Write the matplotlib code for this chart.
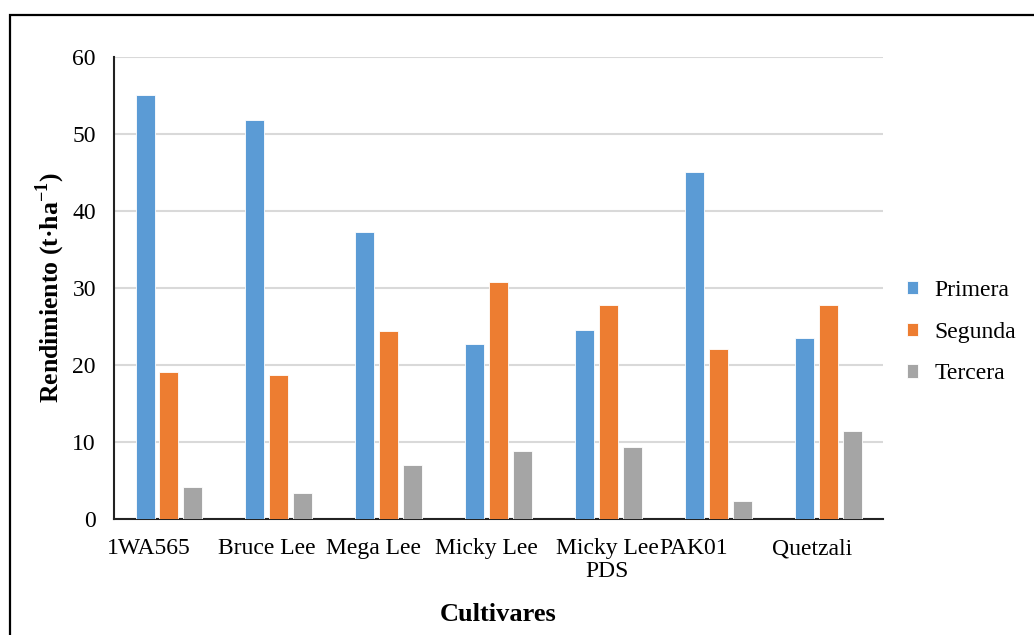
import matplotlib
matplotlib.use("Agg")
import matplotlib.pyplot as plt
from matplotlib.patches import Rectangle
from matplotlib.transforms import ScaledTranslation
import numpy as np

categories = ["1WA565", "Bruce Lee", "Mega Lee", "Micky Lee", "Micky Lee\nPDS", "PAK01", "Quetzali"]
primera = [55.1, 51.8, 37.3, 22.7, 24.5, 45.1, 23.5]
segunda = [19.1, 18.7, 24.4, 30.8, 27.8, 22.1, 27.8]
tercera = [4.1, 3.4, 7.0, 8.8, 9.4, 2.3, 11.4]
series_names = ["Primera", "Segunda", "Tercera"]
colors = ["#5B9BD5", "#ED7D31", "#A5A5A5"]
yticks = [0, 10, 20, 30, 40, 50, 60]

# horizontal nudges (pixels) of category labels, as laid out in the original
label_dx_px = [-20.5, -12.5, -15, -12.5, -1, -25, -16]

plt.rcParams['font.family'] = ['Liberation Serif', 'DejaVu Serif']

fig = plt.figure(figsize=(10.34, 6.35), dpi=100)
ax = fig.add_axes([0.1103, 0.1827, 0.7437, 0.7275])

x = np.arange(len(categories))
w = 0.173
off = 0.218
for i, (vals, name, c) in enumerate(zip([primera, segunda, tercera], series_names, colors)):
    ax.bar(x + (i - 1) * off, vals, width=w, color=c, label=name,
           edgecolor='white', linewidth=0.6, zorder=3)

ax.set_xlim(-0.5, len(categories) - 0.5)
ax.set_ylim(0, 60)
ax.set_yticks(yticks)
ax.set_yticklabels([str(t) for t in yticks], fontsize=17)
ax.set_xticks(x)
ax.set_xticklabels(categories, fontsize=17, linespacing=1.1)
ax.tick_params(axis='y', length=0, pad=13)
ax.tick_params(axis='x', length=0, pad=14)
for lab, dx in zip(ax.get_xticklabels(), label_dx_px):
    lab.set_transform(lab.get_transform() + ScaledTranslation(dx / 100, 0, fig.dpi_scale_trans))

ax.grid(axis='y', color='#D9D9D9', linewidth=1.5, zorder=0)
for s in ['top', 'right']:
    ax.spines[s].set_visible(False)
ax.spines['left'].set_color('#222222')
ax.spines['left'].set_linewidth(1.5)
ax.spines['bottom'].set_color('#222222')
ax.spines['bottom'].set_linewidth(1.5)

ax.set_ylabel("Rendimiento (t·ha$^{\\mathregular{-1}}$)", fontsize=18.5, fontweight='bold')
ax.set_xlabel("Cultivares", fontsize=19, fontweight='bold')
ax.yaxis.set_label_coords(-0.061, 0.5)
ax.xaxis.set_label_coords(0.5, -0.182)

leg = ax.legend(loc='center left', bbox_to_anchor=(1.031, 0.4045), frameon=False,
                fontsize=17, handlelength=0.48, handleheight=0.48, handletextpad=0.7,
                labelspacing=0.88, borderpad=0, borderaxespad=0)

fig.patches.append(Rectangle((10 / 1034, -0.1), 1.2, 1 - 15 / 635 + 0.1,
                             transform=fig.transFigure, fill=False,
                             edgecolor='black', linewidth=1.6, zorder=10))

fig.savefig("out.png", dpi=100)
